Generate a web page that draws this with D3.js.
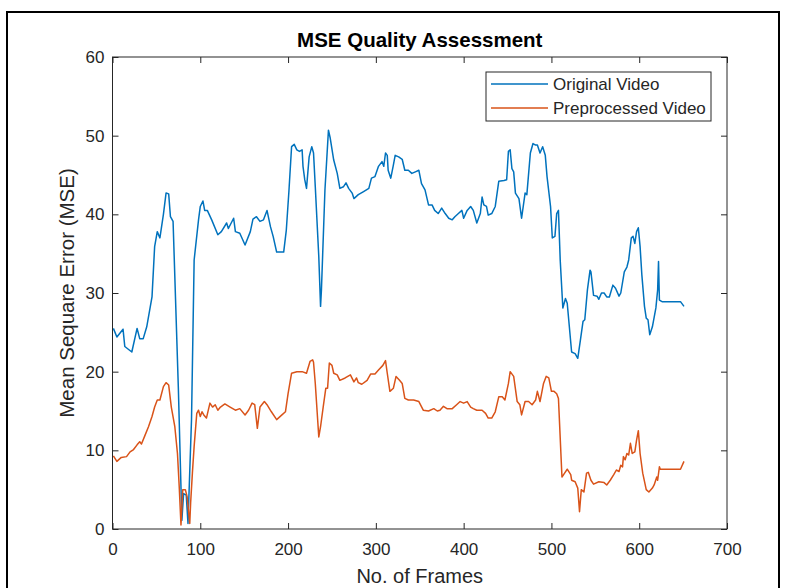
<!DOCTYPE html>
<html>
<head>
<meta charset="utf-8">
<script src="https://cdn.jsdelivr.net/npm/d3@7"></script>
<style>
  body { margin: 0; background: #fff; }
  text { font-family: "Liberation Sans", Arial, Helvetica, sans-serif; fill: #262626; }
</style>
</head>
<body>
<div id="wrapper"></div>
<script>
// values
const origFrames = [1, 5, 12, 14, 22, 28, 31, 35, 39, 45, 48, 51, 54, 58, 61, 64, 66, 69, 75, 79, 81, 84, 86, 90,
    93, 98, 100, 103, 105, 108, 113, 120, 124, 130, 132, 138, 140, 145, 151, 157, 160, 164, 168, 172, 176,
    180, 183, 187, 195, 198, 201, 204, 207, 210, 213, 216, 217, 219, 221, 224, 227, 229, 231, 235, 237, 238,
    242, 246, 248, 252, 256, 259, 263, 266, 269, 273, 275, 280, 286, 292, 295, 299, 303, 307, 309, 311, 313,
    314, 317, 320, 322, 326, 330, 333, 337, 341, 345, 349, 352, 356, 360, 364, 367, 371, 375, 379, 383, 387,
    390, 394, 398, 400, 404, 408, 411, 415, 419, 421, 423, 426, 428, 432, 436, 440, 446, 449, 451, 453, 455,
    457, 459, 463, 466, 470, 472, 476, 479, 482, 484, 487, 490, 493, 495, 499, 501, 504, 506, 508, 510, 513,
    516, 518, 523, 527, 530, 533, 536, 538, 541, 544, 545, 548, 552, 554, 557, 560, 563, 566, 570, 573, 577,
    579, 583, 586, 588, 591, 593, 595, 597, 599, 601, 603, 606, 608, 610, 612, 615, 619, 621, 622, 623, 626,
    647, 651];
const origMse = [25.5, 24.4, 25.4, 23.2, 22.5, 25.5, 24.2, 24.2, 25.7, 29.5, 35.9, 37.8, 37, 40, 42.7, 42.6, 39.7,
    39.1, 18, 1.1, 4.5, 4.3, 0.7, 13.9, 34.2, 39.3, 41, 41.7, 40.5, 40.5, 39.3, 37.4, 37.8, 38.9, 38.2, 39.5,
    37.8, 37.6, 36.1, 37.8, 39.4, 39.7, 39.1, 39.3, 40.5, 38.4, 37.2, 35.2, 35.2, 38, 43, 48.6, 48.9, 48.2, 48,
    48.2, 46.1, 44.4, 43.3, 47.3, 48.6, 47.8, 43.5, 34.6, 28.3, 30.4, 43.1, 50.7, 49.7, 46.9, 45.2, 43.3, 43.5,
    44, 43.3, 42.7, 42, 42.5, 42.9, 43.3, 44.6, 44.8, 46.1, 46.7, 46.1, 47.8, 47.5, 45.6, 44.6, 46.3, 47.5,
    47.3, 47, 45.6, 45.6, 45.2, 45.4, 45.6, 43.9, 43.1, 41.2, 41.2, 40.5, 40.1, 40.8, 40.1, 39.5, 39.3, 39.7,
    40.1, 40.5, 39.5, 40.5, 41, 40.5, 38.9, 40.1, 42.2, 41.2, 41, 39.9, 40.1, 41, 44.2, 44.3, 44.4, 48, 48.2,
    45.8, 45.4, 42.7, 42, 39.5, 42.7, 42.5, 47.8, 49, 48.8, 48.8, 47.8, 48.6, 47.5, 44.8, 41, 37, 37.2, 40.1,
    40.5, 34.2, 28.1, 29.3, 28.7, 22.5, 22.3, 21.7, 24, 26.4, 26.6, 30.4, 32.9, 32.7, 29.7, 29.6, 29.2, 30, 30,
    29.5, 29.5, 31, 30.6, 29.6, 30, 32.7, 33.3, 34.2, 37, 37.2, 36.3, 37.8, 38.3, 35.9, 32.3, 28.3, 26.8, 26.6,
    24.7, 25.7, 28.1, 30.4, 34, 29.1, 28.9, 28.9, 28.3];

const prepFrames = [1, 5, 10, 16, 20, 24, 28, 31, 33, 37, 41, 45, 48, 51, 54, 58, 61, 64, 67, 71, 74, 76, 78, 80,
    83, 85, 88, 89, 91, 93, 96, 98, 100, 102, 104, 107, 111, 114, 117, 120, 123, 128, 134, 140, 145, 151, 155,
    159, 162, 165, 168, 173, 176, 181, 187, 193, 197, 200, 204, 210, 216, 221, 225, 228, 229, 231, 235, 237,
    240, 243, 245, 247, 250, 252, 256, 259, 265, 271, 275, 278, 280, 284, 290, 294, 299, 303, 308, 311, 313,
    316, 320, 323, 327, 330, 333, 337, 343, 349, 354, 360, 366, 370, 373, 377, 381, 387, 392, 396, 400, 404,
    408, 411, 415, 421, 425, 428, 432, 436, 440, 444, 447, 451, 453, 457, 461, 464, 466, 470, 474, 478, 482,
    484, 487, 491, 494, 497, 500, 503, 506, 508, 512, 515, 518, 522, 523, 527, 530, 532, 534, 537, 540, 542,
    545, 548, 554, 560, 563, 567, 571, 574, 577, 579, 581, 582, 584, 586, 588, 590, 592, 595, 597, 599, 601,
    604, 608, 611, 615, 617, 620, 621, 623, 624, 647, 651];
const prepMse = [9.3, 8.6, 9.1, 9.2, 9.8, 10.1, 10.7, 11.1, 10.8, 11.9, 13, 14.3, 15.5, 16.4, 16.4, 18.1, 18.6,
    18.3, 15.5, 13, 9.6, 5.4, 0.5, 5, 5, 4.1, 0.7, 3.3, 7.1, 10.5, 14.7, 15.1, 14.3, 14.9, 14.5, 14.1, 16,
    15.5, 15.8, 15.1, 15.5, 15.9, 15.5, 15.1, 15.3, 14.5, 15.1, 16, 15.8, 12.8, 15.5, 16.2, 15.8, 14.9, 13.9,
    14.5, 14.9, 17.2, 19.8, 20, 20, 19.8, 21.3, 21.5, 21.2, 18.5, 11.7, 13, 15.5, 17.9, 17.9, 21.1, 20.8, 19.8,
    19.6, 18.9, 19.2, 19.6, 18.7, 19.2, 18.6, 18.4, 18.9, 19.7, 19.7, 20.2, 20.8, 21.4, 19.8, 17.5, 17.9, 19.4,
    18.9, 18.5, 16.6, 16.4, 16.4, 16.2, 15.1, 15, 15.3, 15, 15.1, 15.6, 15.3, 15.3, 15.8, 16.2, 16, 16.2, 15.5,
    15.3, 15.1, 15.1, 14.7, 14.1, 14.1, 14.9, 16.8, 16.8, 16.4, 18.5, 20, 19.4, 16.2, 15.8, 14.5, 16.2, 16.2,
    15.8, 16.4, 17.5, 16.2, 18.5, 19.4, 19.2, 17.5, 17.5, 17.2, 16.6, 6.6, 7.1, 7.6, 6.9, 6.2, 6, 5.2, 2.2, 5,
    4.7, 7.1, 7.2, 6.2, 5.7, 6, 5.9, 5.6, 6.2, 6.9, 7.5, 7.3, 8.1, 7.9, 9.2, 8.8, 9.6, 9.4, 10.9, 9.6, 9.8,
    11.3, 12.5, 9.6, 7.1, 5, 4.7, 5.2, 5.6, 6.6, 6.2, 7.9, 7.6, 7.6, 8.6];

const xTicks = [0, 100, 200, 300, 400, 500, 600, 700];
const yTicks = [0, 10, 20, 30, 40, 50, 60];
const seriesNames = ["Original Video", "Preprocessed Video"];
const seriesColors = ["#0072BD", "#D95319"];

function buildPlot() {
    const dimension = {
        width: 790,
        height: 588,
        margin: { top: 57, left: 112.5, bottom: 59, right: 63 }
    };
    dimension.boundedWidth = dimension.width - dimension.margin.left - dimension.margin.right;
    dimension.boundedHeight = dimension.height - dimension.margin.top - dimension.margin.bottom;

    const svg = d3.select("#wrapper").append("svg")
        .attr("width", dimension.width)
        .attr("height", dimension.height);

    // outer figure frame
    svg.append("rect")
        .attr("x", 7).attr("y", 12)
        .attr("width", 772).attr("height", 620)
        .attr("fill", "none").attr("stroke", "#000").attr("stroke-width", 2);

    const bounded = svg.append("g")
        .attr("transform", `translate(${dimension.margin.left},${dimension.margin.top})`);

    const xScaler = d3.scaleLinear().domain([0, 700]).range([0, dimension.boundedWidth]);
    const yScaler = d3.scaleLinear().domain([0, 60]).range([dimension.boundedHeight, 0]);

    const series = [
        d3.zip(origFrames, origMse),
        d3.zip(prepFrames, prepMse)
    ];

    const lineGenerator = d3.line()
        .x(d => xScaler(d[0]))
        .y(d => yScaler(d[1]));

    series.forEach((s, i) => {
        bounded.append("path")
            .attr("d", lineGenerator(s))
            .attr("fill", "none")
            .attr("stroke", seriesColors[i])
            .attr("stroke-width", 1.5)
            .attr("stroke-linejoin", "round");
    });

    // matlab style axes: ticks pointing inward on all four sides
    const styleAxis = g => {
        g.select(".domain").remove();
        g.selectAll("line").attr("stroke", "#262626");
        g.selectAll("text").attr("font-size", 17).attr("fill", "#262626");
    };

    bounded.append("g")
        .attr("transform", `translate(0,${dimension.boundedHeight})`)
        .call(d3.axisBottom(xScaler).tickValues(xTicks).tickSizeInner(-6).tickSizeOuter(0).tickPadding(14))
        .call(styleAxis);
    bounded.append("g")
        .call(d3.axisTop(xScaler).tickValues(xTicks).tickSizeInner(-6).tickSizeOuter(0).tickFormat(""))
        .call(styleAxis);
    bounded.append("g")
        .call(d3.axisLeft(yScaler).tickValues(yTicks).tickSizeInner(-6).tickSizeOuter(0).tickPadding(8))
        .call(styleAxis);
    bounded.append("g")
        .attr("transform", `translate(${dimension.boundedWidth},0)`)
        .call(d3.axisRight(yScaler).tickValues(yTicks).tickSizeInner(-6).tickSizeOuter(0).tickFormat(""))
        .call(styleAxis);

    bounded.append("rect")
        .attr("width", dimension.boundedWidth)
        .attr("height", dimension.boundedHeight)
        .attr("fill", "none")
        .attr("stroke", "#262626");

    // title and labels
    svg.append("text")
        .attr("x", dimension.margin.left + dimension.boundedWidth / 2).attr("y", 47)
        .attr("text-anchor", "middle").attr("font-size", 20.5).attr("font-weight", "bold")
        .style("fill", "#000")
        .text("MSE Quality Assessment");
    svg.append("text")
        .attr("x", dimension.margin.left + dimension.boundedWidth / 2).attr("y", 583)
        .attr("text-anchor", "middle").attr("font-size", 20)
        .text("No. of Frames");
    svg.append("text")
        .attr("transform", `translate(74,${dimension.margin.top + dimension.boundedHeight / 2}) rotate(-90)`)
        .attr("text-anchor", "middle").attr("font-size", 20.5)
        .text("Mean Sequare Error (MSE)");

    // legend
    const legend = svg.append("g").attr("transform", "translate(486,72)");
    legend.append("rect")
        .attr("width", 225).attr("height", 49)
        .attr("fill", "#fff").attr("stroke", "#262626");
    seriesNames.forEach((name, i) => {
        const y = 12 + i * 24;
        legend.append("line")
            .attr("x1", 5).attr("x2", 62).attr("y1", y).attr("y2", y)
            .attr("stroke", seriesColors[i]).attr("stroke-width", 1.5);
        legend.append("text")
            .attr("x", 67).attr("y", y).attr("dy", "0.35em")
            .attr("font-size", 17)
            .text(name);
    });
}

buildPlot();
</script>
</body>
</html>
